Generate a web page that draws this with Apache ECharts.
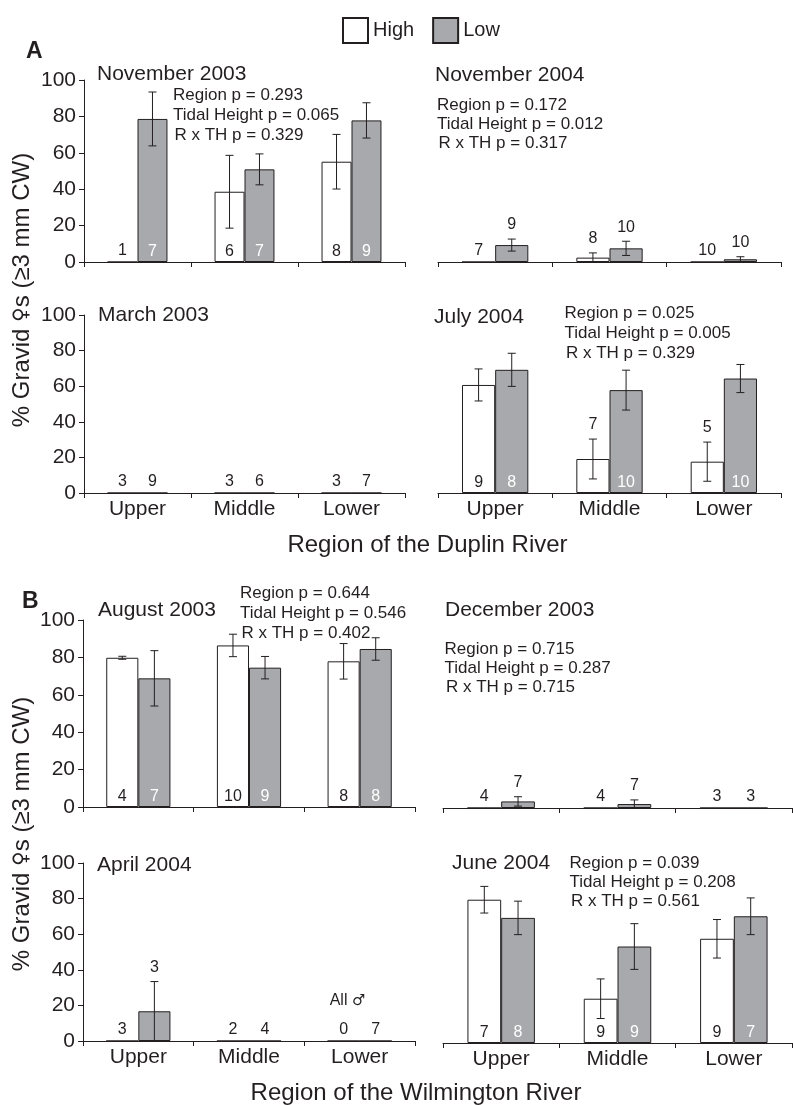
<!DOCTYPE html>
<html>
<head>
<meta charset="utf-8">
<title>Gravid females by region and tidal height</title>
<script src="https://cdn.jsdelivr.net/npm/echarts@6/dist/echarts.min.js"></script>
<style>
  html, body { margin: 0; padding: 0; background: #ffffff; }
  #chart { width: 793px; height: 1105px; }
</style>
</head>
<body>
<div id="chart"></div>
<script>
// ---- Data -------------------------------------------------------------
const regions = ['Upper', 'Middle', 'Lower'];
const yTicks = [0, 20, 40, 60, 80, 100];
const seriesNames = ['High', 'Low'];

const panelTitles = ['November 2003', 'November 2004', 'March 2003', 'July 2004',
                     'August 2003', 'December 2003', 'April 2004', 'June 2004'];

// mean % gravid, standard error and sample size for each region
const nov03HighMean = [0, 38.6, 55.1];
const nov03HighSE   = [0, 20, 15];
const nov03HighN    = [1, 6, 8];
const nov03LowMean  = [78.6, 50.9, 77.8];
const nov03LowSE    = [14.8, 8.5, 9.7];
const nov03LowN     = [7, 7, 9];

const nov04HighMean = [0, 2.4, 0];
const nov04HighSE   = [0, 2.6, 0];
const nov04HighN    = [7, 8, 10];
const nov04LowMean  = [9.3, 7.5, 1.5];
const nov04LowSE    = [3.3, 3.9, 1.4];
const nov04LowN     = [9, 10, 10];

const mar03HighMean = [0, 0, 0];
const mar03HighSE   = [0, 0, 0];
const mar03HighN    = [3, 3, 3];
const mar03LowMean  = [0, 0, 0];
const mar03LowSE    = [0, 0, 0];
const mar03LowN     = [9, 6, 7];

const jul04HighMean = [60.7, 19.1, 17.6];
const jul04HighSE   = [9, 11.2, 11];
const jul04HighN    = [9, 7, 5];
const jul04LowMean  = [69.2, 57.8, 64.3];
const jul04LowSE    = [9.3, 11.2, 7.9];
const jul04LowN     = [8, 10, 10];

const aug03HighMean = [79.8, 86.4, 77.9];
const aug03HighSE   = [0.8, 6, 9.5];
const aug03HighN    = [4, 10, 8];
const aug03LowMean  = [68.8, 74.5, 84.5];
const aug03LowSE    = [14.8, 6, 6];
const aug03LowN     = [7, 9, 8];

const dec03HighMean = [0, 0, 0];
const dec03HighSE   = [0, 0, 0];
const dec03HighN    = [4, 4, 3];
const dec03LowMean  = [3.5, 2.1, 0];
const dec03LowSE    = [2.5, 2.2, 0];
const dec03LowN     = [7, 7, 3];

const apr04HighMean = [0, 0, 0];
const apr04HighSE   = [0, 0, 0];
const apr04HighN    = [3, 2, 0];
const apr04LowMean  = [16.7, 0, 0];
const apr04LowSE    = [16.7, 0, 0];
const apr04LowN     = [3, 4, 7];

const jun04HighMean = [79.6, 24.6, 57.9];
const jun04HighSE   = [7.4, 11, 10.7];
const jun04HighN    = [7, 9, 9];
const jun04LowMean  = [69.5, 53.6, 70.4];
const jun04LowSE    = [9.3, 12.7, 10.2];
const jun04LowN     = [8, 9, 7];

// two-way ANOVA p-values: Region, Tidal Height, Region x Tidal Height
const nov03Stats = ['0.293', '0.065', '0.329'];
const nov04Stats = ['0.172', '0.012', '0.317'];
const jul04Stats = ['0.025', '0.005', '0.329'];
const aug03Stats = ['0.644', '0.546', '0.402'];
const dec03Stats = ['0.715', '0.287', '0.715'];
const jun04Stats = ['0.039', '0.208', '0.561'];

const statLabels = ['Region p = ', 'Tidal Height p = ', 'R x TH p = '];

// ---- Styling / layout -------------------------------------------------
const FONT = '"Liberation Sans", Arial, Helvetica, sans-serif';
const SYMBOL_FONT = '"DejaVu Sans", sans-serif';
const INK = '#231f20';
const GREY = '#a7a9ac';

const panelData = [
  { high: [nov03HighMean, nov03HighSE, nov03HighN], low: [nov03LowMean, nov03LowSE, nov03LowN], stats: nov03Stats },
  { high: [nov04HighMean, nov04HighSE, nov04HighN], low: [nov04LowMean, nov04LowSE, nov04LowN], stats: nov04Stats },
  { high: [mar03HighMean, mar03HighSE, mar03HighN], low: [mar03LowMean, mar03LowSE, mar03LowN], stats: null },
  { high: [jul04HighMean, jul04HighSE, jul04HighN], low: [jul04LowMean, jul04LowSE, jul04LowN], stats: jul04Stats },
  { high: [aug03HighMean, aug03HighSE, aug03HighN], low: [aug03LowMean, aug03LowSE, aug03LowN], stats: aug03Stats },
  { high: [dec03HighMean, dec03HighSE, dec03HighN], low: [dec03LowMean, dec03LowSE, dec03LowN], stats: dec03Stats },
  { high: [apr04HighMean, apr04HighSE, apr04HighN], low: [apr04LowMean, apr04LowSE, apr04LowN], stats: null },
  { high: [jun04HighMean, jun04HighSE, jun04HighN], low: [jun04LowMean, jun04LowSE, jun04LowN], stats: jun04Stats }
];

// plot rectangles, title anchors and stat-block anchors for each panel
const layout = [
  { left: 84,  top: 80,  width: 321, height: 182, yAxis: true,  xLabels: false, frac: 0.28, title: [97, 74],   stats: [173, 95.7, 19.8] },
  { left: 438, top: 80,  width: 343, height: 182, yAxis: false, xLabels: false, frac: 0.29, title: [435, 75],  stats: [437, 105, 19.2] },
  { left: 84,  top: 315, width: 321, height: 178, yAxis: true,  xLabels: true,  frac: 0.28, title: [98, 315],  stats: null },
  { left: 438, top: 315, width: 343, height: 178, yAxis: false, xLabels: true,  frac: 0.29, title: [434, 317], stats: [564.5, 313.3, 20] },
  { left: 83,  top: 620, width: 332, height: 187, yAxis: true,  xLabels: false, frac: 0.29, title: [98, 610],  stats: [240, 593.3, 20] },
  { left: 443, top: 620, width: 349, height: 188, yAxis: false, xLabels: false, frac: 0.29, title: [445, 610], stats: [444.5, 649.3, 19.2] },
  { left: 83,  top: 863, width: 332, height: 178, yAxis: true,  xLabels: true,  frac: 0.29, title: [97, 865],  stats: null },
  { left: 443, top: 863, width: 349, height: 180, yAxis: false, xLabels: true,  frac: 0.29, title: [452, 863.3], stats: [569.5, 863.3, 19.2] }
];

// ---- Build option ------------------------------------------------------
const grids = [], xAxes = [], yAxes = [], series = [], graphics = [];

function errorBarSeries(idx, side, arrays, frac) {
  const [mean, se, n] = arrays;
  const data = regions.map((_, i) => [i, mean[i], se[i], n[i]]);
  return {
    type: 'custom',
    name: seriesNames[side < 0 ? 0 : 1] + ' SE',
    xAxisIndex: idx,
    yAxisIndex: idx,
    z: 5,
    silent: true,
    clip: false,
    encode: { x: 0, y: 1 },
    data: data,
    renderItem: function (params, api) {
      const i = api.value(0);
      const m = api.value(1);
      const e = api.value(2);
      const cnt = api.value(3);
      const catW = api.size([1, 0])[0];
      const bw = catW * frac;
      const base = api.coord([i, 0]);
      const cx = base[0] + side * bw / 2;
      const children = [];
      const lineStyle = { stroke: INK, lineWidth: 1 };
      if (e > 0) {
        const yTop = api.coord([i, m + e])[1];
        const yBot = api.coord([i, Math.max(0, m - e)])[1];
        children.push({ type: 'line', shape: { x1: cx, y1: yTop, x2: cx, y2: yBot }, style: lineStyle });
        children.push({ type: 'line', shape: { x1: cx - 4, y1: yTop, x2: cx + 4, y2: yTop }, style: lineStyle });
        if (m - e > 0) {
          children.push({ type: 'line', shape: { x1: cx - 4, y1: yBot, x2: cx + 4, y2: yBot }, style: lineStyle });
        }
      }
      // sample size label: inside the bar when it is tall, above the error bar otherwise
      let ly, fill = INK;
      if (m >= 20) {
        ly = base[1] - 10;
        fill = side < 0 ? INK : '#ffffff';
      } else if (m > 0) {
        ly = api.coord([i, m + e])[1] - 14;
      } else {
        ly = base[1] - 11;
      }
      children.push({
        type: 'text',
        style: { text: String(cnt), x: cx, y: ly, align: 'center', verticalAlign: 'middle',
                 font: '16px ' + FONT, fill: fill }
      });
      return { type: 'group', children: children };
    }
  };
}

layout.forEach((L, idx) => {
  const P = panelData[idx];
  grids.push({ left: L.left, top: L.top, width: L.width, height: L.height, containLabel: false });

  xAxes.push({
    type: 'category',
    gridIndex: idx,
    data: regions,
    axisLine: { show: true, lineStyle: { color: INK, width: 1 } },
    axisTick: { show: true, length: 5, alignWithLabel: false, lineStyle: { color: INK, width: 1 } },
    axisLabel: { show: L.xLabels, color: INK, fontSize: 21, fontFamily: FONT, margin: 6 },
    splitLine: { show: false }
  });

  yAxes.push({
    type: 'value',
    gridIndex: idx,
    min: 0,
    max: 100,
    interval: 20,
    show: L.yAxis,
    axisLine: { show: true, lineStyle: { color: INK, width: 1 } },
    axisTick: { show: true, length: 5, lineStyle: { color: INK, width: 1 } },
    axisLabel: {
      color: INK, fontSize: 21, fontFamily: FONT, margin: 8,
      formatter: v => (yTicks.indexOf(v) >= 0 ? String(v) : '')
    },
    splitLine: { show: false }
  });

  series.push({
    type: 'bar',
    name: 'High',
    xAxisIndex: idx,
    yAxisIndex: idx,
    data: P.high[0],
    barWidth: (L.frac * 100) + '%',
    barGap: '0%',
    silent: true,
    itemStyle: { color: '#ffffff', borderColor: INK, borderWidth: 1 }
  });
  series.push({
    type: 'bar',
    name: 'Low',
    xAxisIndex: idx,
    yAxisIndex: idx,
    data: P.low[0],
    barWidth: (L.frac * 100) + '%',
    barGap: '0%',
    silent: true,
    itemStyle: { color: GREY, borderColor: INK, borderWidth: 1 }
  });
  series.push(errorBarSeries(idx, -1, P.high, L.frac));
  series.push(errorBarSeries(idx, 1, P.low, L.frac));

  // panel title
  graphics.push({
    type: 'text', silent: true,
    style: { text: panelTitles[idx], x: L.title[0], y: L.title[1], align: 'left', verticalAlign: 'middle',
             font: '21px ' + FONT, fill: INK }
  });

  // ANOVA results
  if (P.stats && L.stats) {
    P.stats.forEach((p, k) => {
      graphics.push({
        type: 'text', silent: true,
        style: { text: statLabels[k] + p, x: L.stats[0] + (k === 2 ? 1.5 : 0), y: L.stats[1] + k * L.stats[2],
                 align: 'left', verticalAlign: 'middle', font: '17px ' + FONT, fill: INK }
      });
    });
  }
});

// panel letters
graphics.push({ type: 'text', silent: true,
  style: { text: 'A', x: 26, y: 52, align: 'left', verticalAlign: 'middle', font: 'bold 23px ' + FONT, fill: INK } });
graphics.push({ type: 'text', silent: true,
  style: { text: 'B', x: 22, y: 602, align: 'left', verticalAlign: 'middle', font: 'bold 23px ' + FONT, fill: INK } });

// x-axis titles
graphics.push({ type: 'text', silent: true,
  style: { text: 'Region of the Duplin River', x: 427.5, y: 545.7, align: 'center', verticalAlign: 'middle',
           font: '24px ' + FONT, fill: INK } });
graphics.push({ type: 'text', silent: true,
  style: { text: 'Region of the Wilmington River', x: 416, y: 1093, align: 'center', verticalAlign: 'middle',
           font: '24px ' + FONT, fill: INK } });

// y-axis titles (female sign drawn from a font with a full-size glyph)
[290, 834].forEach(cy => {
  graphics.push({
    type: 'text', silent: true,
    x: 22, y: cy, rotation: Math.PI / 2,
    style: {
      text: '{t|% Gravid }{s|\u2640}{t|s (\u22653 mm CW)}',
      x: 0, y: 0, align: 'center', verticalAlign: 'middle',
      rich: {
        t: { fontFamily: FONT, fontSize: 24, fill: INK, color: INK },
        s: { fontFamily: SYMBOL_FONT, fontSize: 20, fill: INK, color: INK }
      }
    }
  });
});

// note above the lower-region samples in April 2004
graphics.push({ type: 'text', silent: true,
  style: {
    text: '{t|All }{s|\u2642}', x: 347.5, y: 1001, align: 'center', verticalAlign: 'middle',
    rich: {
      t: { fontFamily: FONT, fontSize: 16, fill: INK, color: INK },
      s: { fontFamily: SYMBOL_FONT, fontSize: 15, fill: INK, color: INK }
    }
  } });

const option = {
  animation: false,
  backgroundColor: '#ffffff',
  textStyle: { fontFamily: FONT, color: INK },
  legend: {
    data: seriesNames,
    left: 337,
    top: 12,
    itemWidth: 25,
    itemHeight: 25,
    itemGap: 18,
    icon: 'rect',
    selectedMode: false,
    textStyle: { fontSize: 20, color: INK, fontFamily: FONT }
  },
  grid: grids,
  xAxis: xAxes,
  yAxis: yAxes,
  series: series,
  graphic: graphics
};

const chart = echarts.init(document.getElementById('chart'), null, { renderer: 'canvas' });
chart.setOption(option);
</script>
</body>
</html>
